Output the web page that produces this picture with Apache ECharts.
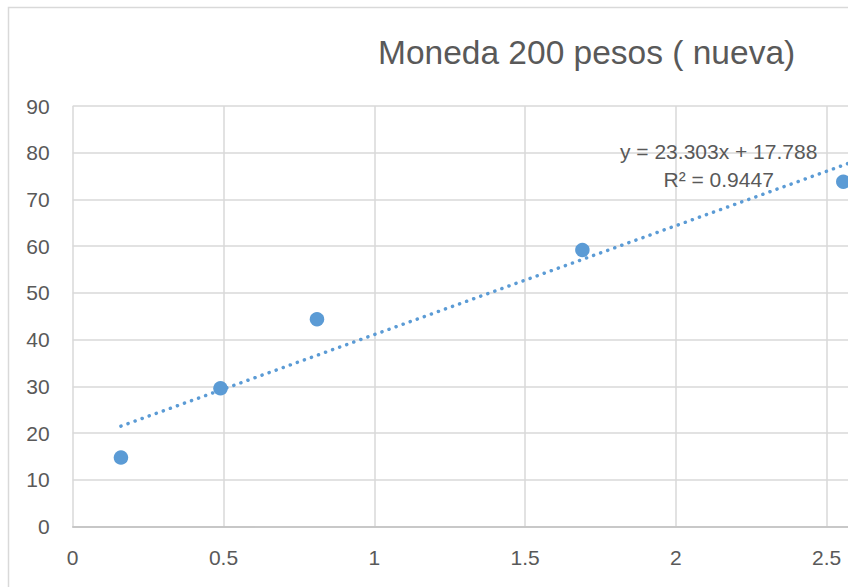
<!DOCTYPE html>
<html>
<head>
<meta charset="utf-8">
<script src="https://cdn.jsdelivr.net/npm/echarts@6/dist/echarts.min.js"></script>
<style>
  html, body { margin: 0; padding: 0; background: #fff; overflow: hidden; }
  /* el gráfico original está recortado a la derecha */
  #chart { width: 1040px; height: 587px; }
</style>
</head>
<body>
<div id="chart"></div>
<script>
// datos
const xValues = [0.16, 0.49, 0.81, 1.69, 2.555];
const yValues = [14.8, 29.6, 44.4, 59.2, 73.8];
const yTicks = [0, 10, 20, 30, 40, 50, 60, 70, 80, 90];
const xTicks = [0, 0.5, 1, 1.5, 2, 2.5, 3];

// línea de tendencia de Excel
const slope = 23.303;
const intercept = 17.788;
const r2 = 0.9447;
const trendEnd = 2.62;

const title = 'Moneda 200 pesos ( nueva)';
const blue = '#5b9bd5';
const textColor = '#595959';
const font = '"Liberation Sans", Arial, sans-serif';

const points = xValues.map((x, i) => [x, yValues[i]]);
const trendStart = Math.min(...xValues);
const trend = [
    [trendStart, slope * trendStart + intercept],
    [trendEnd, slope * trendEnd + intercept]
];

const chartWidth = 1040;
const chart = echarts.init(document.getElementById('chart'), null, { renderer: 'svg' });

chart.setOption({
    animation: false,
    backgroundColor: '#fff',
    title: {
        text: title,
        left: 373,
        top: 30,
        textStyle: { color: textColor, fontSize: 33.5, fontWeight: 'normal', fontFamily: font }
    },
    grid: {
        left: 72.7,
        top: 106,
        bottom: 60.3,
        right: chartWidth - 72.7 - 301.6 * xTicks[xTicks.length - 1],
        outerBoundsMode: 'none'
    },
    xAxis: {
        type: 'value',
        min: xTicks[0],
        max: xTicks[xTicks.length - 1],
        interval: 0.5,
        axisLine: { lineStyle: { color: '#bfbfbf', width: 1.5 } },
        axisTick: { show: false },
        // la etiqueta "3" queda fuera del recorte
        axisLabel: { color: textColor, fontSize: 21, fontFamily: font, margin: 20, showMaxLabel: false },
        splitLine: { lineStyle: { color: '#d9d9d9', width: 1.5 } }
    },
    yAxis: {
        type: 'value',
        min: yTicks[0],
        max: yTicks[yTicks.length - 1],
        interval: 10,
        axisLine: { show: false },
        axisTick: { show: false },
        axisLabel: { color: textColor, fontSize: 21, fontFamily: font, margin: 23 },
        splitLine: { lineStyle: { color: '#d9d9d9', width: 1.5 } }
    },
    series: [
        {
            type: 'line',
            data: trend,
            showSymbol: false,
            symbol: 'none',
            lineStyle: { color: blue, width: 3.5, type: [0.1, 7.4], cap: 'round' },
            z: 2
        },
        {
            type: 'scatter',
            data: points,
            symbol: 'circle',
            symbolSize: 14.5,
            itemStyle: { color: blue, opacity: 1 },
            z: 3
        }
    ],
    graphic: [
        {
            type: 'rect',
            shape: { x: 8.5, y: 7.5, width: 1200, height: 700 },
            style: { fill: 'none', stroke: '#d9d9d9', lineWidth: 1.5 },
            silent: true,
            z: -10
        },
        {
            type: 'text',
            left: 620,
            top: 137,
            z: 10,
            style: {
                text: 'y = ' + slope.toFixed(3) + 'x + ' + intercept.toFixed(3) + '\nR² = ' + r2,
                fill: textColor,
                font: '21px ' + font,
                textAlign: 'center',
                lineHeight: 28
            }
        }
    ]
});
</script>
</body>
</html>
